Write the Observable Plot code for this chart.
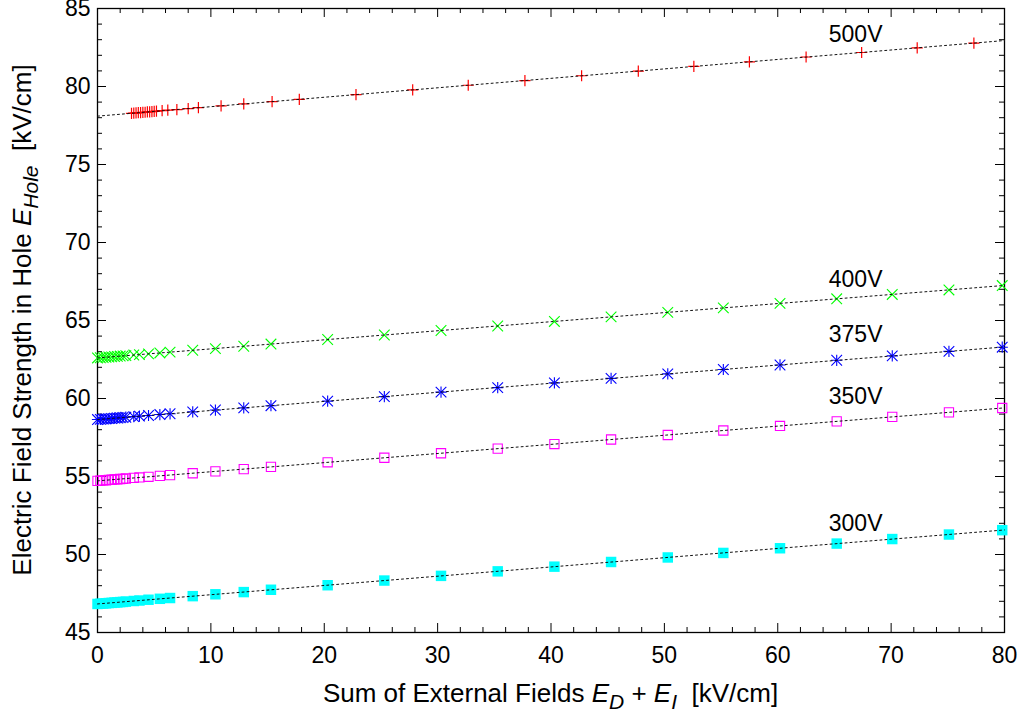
<!DOCTYPE html>
<html><head><meta charset="utf-8">
<script src="https://cdn.jsdelivr.net/npm/d3@7"></script>
<script src="https://cdn.jsdelivr.net/npm/@observablehq/plot@0.6"></script>
<style>body{margin:0;background:#fff}svg{display:block}</style>
</head><body><div id="chart"></div>
<script>
// ---- data ----
const seriesNames = ["500V", "400V", "375V", "350V", "300V"];
const xField = [0,0.25,0.5,0.75,1,1.25,1.5,1.75,2,2.25,2.5,3.2,3.7,4.5,5.5,6.4,8.4,10.4,12.9,15.3,20.3,25.3,30.3,35.3,40.3,45.3,50.3,55.2,60.2,65.2,70.1,75.1,79.8];
const x500 = [3.0,3.2,3.4,3.6,3.8,4.0,4.2,4.4,4.6,4.8,5.0,5.2,5.7,6.2,7.0,8.0,8.9,10.9,12.9,15.4,17.8,22.8,27.8,32.7,37.7,42.7,47.7,52.6,57.5,62.5,67.4,72.3,77.3];
const y500 = [78.28,78.29,78.31,78.32,78.33,78.34,78.35,78.37,78.38,78.39,78.40,78.42,78.45,78.48,78.52,78.58,78.64,78.76,78.88,79.03,79.18,79.48,79.78,80.08,80.38,80.69,80.99,81.29,81.58,81.89,82.18,82.48,82.78];
const y400 = [62.60,62.61,62.63,62.64,62.66,62.67,62.69,62.70,62.72,62.73,62.75,62.79,62.81,62.86,62.92,62.97,63.09,63.20,63.35,63.49,63.78,64.07,64.36,64.65,64.94,65.23,65.52,65.81,66.10,66.39,66.67,66.96,67.24];
const y375 = [58.65,58.66,58.68,58.69,58.71,58.72,58.74,58.75,58.77,58.78,58.80,58.84,58.87,58.91,58.97,59.02,59.14,59.26,59.40,59.54,59.83,60.12,60.41,60.70,61.00,61.29,61.58,61.86,62.15,62.45,62.73,63.02,63.29];
const y350 = [54.72,54.73,54.75,54.76,54.78,54.79,54.81,54.82,54.84,54.85,54.87,54.91,54.94,54.98,55.04,55.09,55.21,55.33,55.47,55.62,55.91,56.20,56.49,56.79,57.08,57.37,57.66,57.95,58.24,58.53,58.82,59.11,59.39];
const y300 = [46.83,46.84,46.86,46.87,46.89,46.90,46.92,46.93,46.95,46.96,46.98,47.02,47.05,47.10,47.16,47.21,47.33,47.45,47.59,47.74,48.03,48.33,48.63,48.92,49.22,49.52,49.81,50.10,50.40,50.70,50.99,51.28,51.56];
const labelX = 64.5;
const labelY = [83.3, 67.6, 64.1, 60.1, 52.0];
const xTicks = [0,10,20,30,40,50,60,70,80];
const yTicks = [45,50,55,60,65,70,75,80,85];

// ---- layout ----
const W = 1021, H = 719, mL = 97, mR = 17, mT = 8, mB = 87;
const frameW = W - mL - mR, frameH = H - mT - mB;
const font = "'Liberation Sans', Arial, Helvetica, sans-serif";

const xs = {"500V": x500, "400V": xField, "375V": xField, "350V": xField, "300V": xField};
const ys = {"500V": y500, "400V": y400, "375V": y375, "350V": y350, "300V": y300};
const rows = s => xs[s].map((x, i) => ({series: s, x, y: ys[s][i]}));

function fitLine(s) {
  const X = xs[s], Y = ys[s], n = X.length;
  const mx = d3.mean(X), my = d3.mean(Y);
  let sxy = 0, sxx = 0;
  for (let i = 0; i < n; i++) { sxy += (X[i]-mx)*(Y[i]-my); sxx += (X[i]-mx)**2; }
  const b = sxy / sxx, a = my - b * mx;
  return [0, 80].map(x => ({x, y: a + b * x}));
}

const xMinor = d3.range(0, 81, 2).filter(d => d % 10 !== 0);
const yMinor = d3.range(45, 86, 1).filter(d => d % 5 !== 0);

const marks = [
  Plot.frame({stroke: "black", strokeWidth: 1.3}),
  // inward ticks, all four sides
  Plot.tickX(xTicks, {x: d => d, insetTop: frameH - 9, stroke: "black"}),
  Plot.tickX(xTicks, {x: d => d, insetBottom: frameH - 9, stroke: "black"}),
  Plot.tickX(xMinor, {x: d => d, insetTop: frameH - 5, stroke: "black"}),
  Plot.tickX(xMinor, {x: d => d, insetBottom: frameH - 5, stroke: "black"}),
  Plot.tickY(yTicks, {y: d => d, insetRight: frameW - 9, stroke: "black"}),
  Plot.tickY(yTicks, {y: d => d, insetLeft: frameW - 9, stroke: "black"}),
  Plot.tickY(yMinor, {y: d => d, insetRight: frameW - 5, stroke: "black"}),
  Plot.tickY(yMinor, {y: d => d, insetLeft: frameW - 5, stroke: "black"}),
  // points
  Plot.dot(rows("500V"), {x: "x", y: "y", symbol: "plus", r: 3.7, stroke: "#ff0000", strokeWidth: 1.2}),
  Plot.dot(rows("400V"), {x: "x", y: "y", symbol: "times", r: 4.9, stroke: "#00ff00", strokeWidth: 1.1}),
  Plot.dot(rows("375V"), {x: "x", y: "y", symbol: "plus", r: 3.7, stroke: "#0000ff", strokeWidth: 1.1}),
  Plot.dot(rows("375V"), {x: "x", y: "y", symbol: "times", r: 4.9, stroke: "#0000ff", strokeWidth: 1.1}),
  Plot.dot(rows("350V"), {x: "x", y: "y", symbol: "square", r: 5.2, fill: "none", stroke: "#ff00ff", strokeWidth: 1.1}),
  Plot.dot(rows("300V"), {x: "x", y: "y", symbol: "square", r: 5.9, fill: "#00ffff", stroke: "none"}),
  // fit lines
  ...seriesNames.map(s => Plot.line(fitLine(s), {x: "x", y: "y", stroke: "#111", strokeWidth: 1, strokeDasharray: "2,3"})),
  // series labels
  Plot.text(seriesNames.map((s, i) => ({s, x: labelX, y: labelY[i]})), {x: "x", y: "y", text: "s", textAnchor: "start", lineAnchor: "middle", fontSize: 23, fill: "black"})
];

const chart = Plot.plot({
  width: W, height: H,
  marginLeft: mL, marginRight: mR, marginTop: mT, marginBottom: mB,
  style: {fontFamily: font, fontSize: "23px", background: "white", color: "black", overflow: "visible"},
  x: {domain: [0, 80], ticks: xTicks, tickSize: 0, tickPadding: 14, label: null},
  y: {domain: [45, 85], ticks: yTicks, tickSize: 0, tickPadding: 7, label: null},
  marks
});
document.getElementById("chart").appendChild(chart);

// axis titles with sub-scripts
const svg = d3.select(chart);
const xt = svg.append("text")
  .attr("x", (mL + W - mR) / 2).attr("y", 702)
  .attr("text-anchor", "middle").attr("font-size", 26).attr("fill", "black")
  .attr("font-family", font).style("white-space", "pre");
xt.append("tspan").text("Sum of External Fields ");
xt.append("tspan").attr("font-style", "italic").text("E");
xt.append("tspan").attr("font-style", "italic").attr("font-size", 21).attr("dy", 7).text("D");
xt.append("tspan").attr("dy", -7).text(" + ");
xt.append("tspan").attr("font-style", "italic").text("E");
xt.append("tspan").attr("font-style", "italic").attr("font-size", 21).attr("dy", 7).text("I");
xt.append("tspan").attr("dy", -7).text("  [kV/cm]");

const yt = svg.append("text")
  .attr("transform", `translate(31,${(mT + H - mB) / 2}) rotate(-90)`)
  .attr("text-anchor", "middle").attr("font-size", 26).attr("fill", "black")
  .attr("font-family", font).style("white-space", "pre");
yt.append("tspan").text("Electric Field Strength in Hole ");
yt.append("tspan").attr("font-style", "italic").text("E");
yt.append("tspan").attr("font-style", "italic").attr("font-size", 21).attr("dy", 7).text("Hole");
yt.append("tspan").attr("dy", -7).text("  [kV/cm]");
</script>
</body></html>
